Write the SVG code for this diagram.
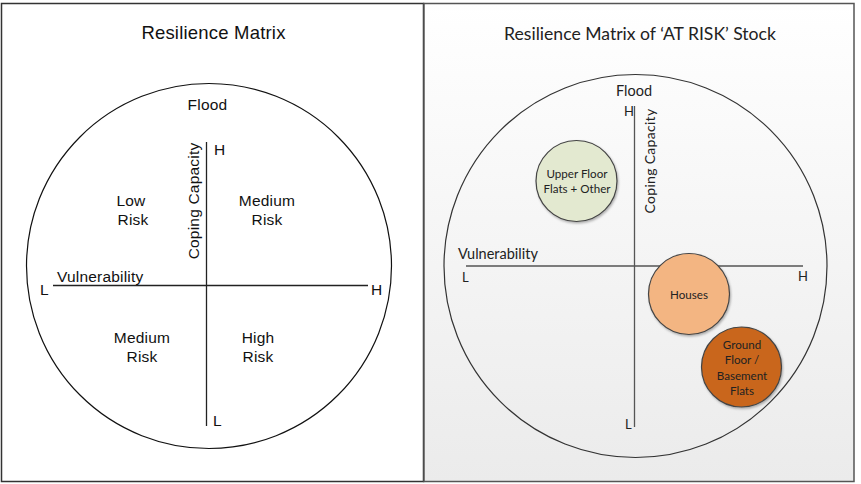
<svg xmlns="http://www.w3.org/2000/svg" width="861" height="484" viewBox="0 0 861 484">
<style>
.l{font-family:"Liberation Sans",Arial,sans-serif;fill:#111;font-size:15.5px;letter-spacing:0.2px}
.r{font-family:Lato,"Open Sans",sans-serif;fill:#222;font-size:14.5px}
.b{font-family:Lato,"Open Sans",sans-serif;fill:#222;font-size:11.6px;text-anchor:middle}
.c{text-anchor:middle}
.ax{stroke:#222;stroke-width:1.3;fill:none}
.axr{stroke:#555;stroke-width:1.3;fill:none}
.bub{stroke:#444;stroke-width:1.2}
</style>
<defs>
<linearGradient id="bg" x1="0" y1="0" x2="0" y2="1">
<stop offset="0" stop-color="#ffffff"/>
<stop offset="1" stop-color="#ebebeb"/>
</linearGradient>
<filter id="sh" x="-20%" y="-20%" width="140%" height="140%">
<feDropShadow dx="1" dy="1.5" stdDeviation="1.2" flood-color="#000" flood-opacity="0.3"/>
</filter>
</defs>
<rect x="0" y="0" width="861" height="484" fill="#fff"/>
<g id="left-panel">
<rect x="1.5" y="3.5" width="422" height="478" fill="#fff" stroke="#333" stroke-width="1.5"/>
<text class="l c" x="213.5" y="39" style="font-size:18.5px">Resilience Matrix</text>
<circle cx="209" cy="266" r="182.5" fill="none" stroke="#111" stroke-width="1.2"/>
<text class="l c" x="207.5" y="110">Flood</text>
</g>
<g id="left-axes">
<line class="ax" x1="206.5" y1="142" x2="206.5" y2="426"/>
<line class="ax" x1="53" y1="285.5" x2="368" y2="285.5"/>
</g>
<g id="left-labels">
<text class="l" x="214" y="155">H</text>
<text class="l" x="213" y="426">L</text>
<text class="l" x="40" y="295">L</text>
<text class="l" x="371" y="295">H</text>
<text class="l" x="57" y="282">Vulnerability</text>
<text class="l c" x="0" y="0" transform="translate(199,201) rotate(-90)">Coping Capacity</text>
<text class="l c" x="131" y="206">Low</text>
<text class="l c" x="133" y="225">Risk</text>
<text class="l c" x="267" y="206">Medium</text>
<text class="l c" x="267" y="225">Risk</text>
<text class="l c" x="142" y="343">Medium</text>
<text class="l c" x="142" y="362">Risk</text>
<text class="l c" x="258" y="343">High</text>
<text class="l c" x="258" y="362">Risk</text>
</g>
<g id="right-panel">
<rect x="424" y="3.5" width="430" height="478" fill="url(#bg)" stroke="#555" stroke-width="1.5"/>
<text class="r c" x="640" y="40" style="font-size:17.6px">Resilience Matrix of ‘AT RISK’ Stock</text>
<circle cx="635.5" cy="266" r="191.5" fill="none" stroke="#333" stroke-width="1.2"/>
<text class="r c" x="634" y="96">Flood</text>
</g>
<g id="right-axes">
<line class="axr" x1="634.5" y1="106" x2="634.5" y2="427"/>
<line class="axr" x1="466" y1="266" x2="803" y2="266"/>
</g>
<g id="right-labels">
<text class="r" x="624" y="116" style="font-size:13px">H</text>
<text class="r" x="625" y="429" style="font-size:13px">L</text>
<text class="r" x="462" y="282" style="font-size:13px">L</text>
<text class="r" x="798" y="281" style="font-size:13px">H</text>
<text class="r" x="458" y="259">Vulnerability</text>
<text class="r c" x="0" y="0" style="font-size:14px;letter-spacing:0.3px" transform="translate(655,161) rotate(-90)">Coping Capacity</text>
</g>
<g id="upper-floor">
<circle class="bub" cx="576.5" cy="181" r="40.5" fill="#e3e9d0" filter="url(#sh)"/>
<text class="b" x="577" y="178">Upper Floor</text>
<text class="b" x="577" y="193">Flats + Other</text>
</g>
<g id="houses">
<circle class="bub" cx="689" cy="294" r="40.5" fill="#f3b582" filter="url(#sh)"/>
<text class="b" x="689" y="299">Houses</text>
</g>
<g id="ground-floor">
<circle class="bub" cx="741.5" cy="367" r="40" fill="#c9661c" filter="url(#sh)"/>
<text class="b" x="742" y="349">Ground</text>
<text class="b" x="742" y="364">Floor /</text>
<text class="b" x="742" y="380">Basement</text>
<text class="b" x="742" y="395">Flats</text>
</g>
</svg>
